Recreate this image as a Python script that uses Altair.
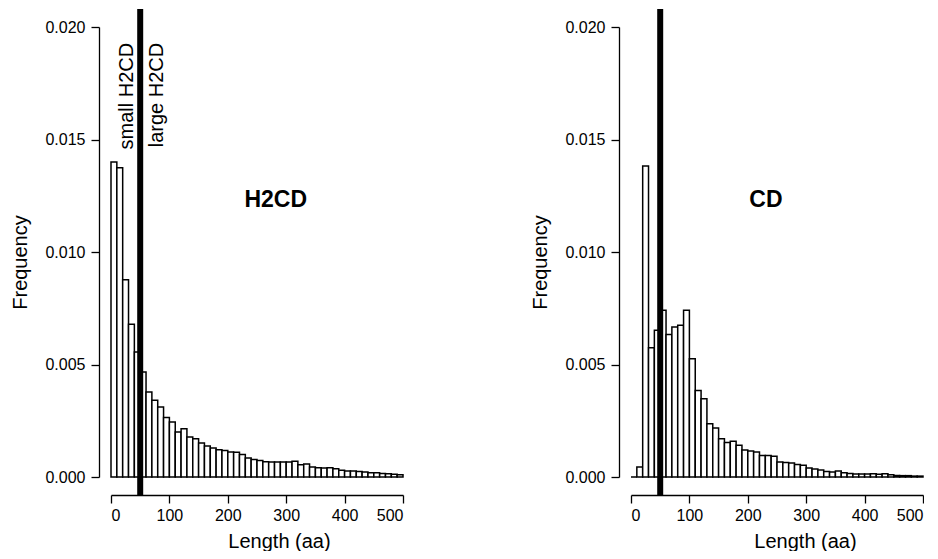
import altair as alt
import pandas as pd

# Histogram bins (aa), width 10
bin_starts = list(range(0, 500, 10))

h2cd_freq = [0.0140, 0.01375, 0.00877, 0.00679, 0.00556, 0.00467, 0.00378, 0.00341, 0.00311, 0.00264,
             0.00244, 0.00200, 0.00215, 0.00178, 0.00170, 0.00151, 0.00138, 0.00129, 0.00121, 0.00118,
             0.00111, 0.00110, 0.00100, 0.00085, 0.00078, 0.00073, 0.00068, 0.00067, 0.00067, 0.00067,
             0.00067, 0.00070, 0.00055, 0.00058, 0.00044, 0.00041, 0.00040, 0.00041, 0.00037, 0.00030,
             0.00027, 0.00027, 0.00024, 0.00022, 0.00019, 0.00019, 0.00016, 0.00015, 0.00012, 0.00010]

cd_freq = [0.0, 0.00044, 0.01382, 0.00575, 0.00652, 0.00741, 0.00633, 0.00667, 0.00674, 0.00741,
           0.00526, 0.00385, 0.00348, 0.00237, 0.00218, 0.00170, 0.00153, 0.00159, 0.00141, 0.00120,
           0.00116, 0.00111, 0.00096, 0.00096, 0.00092, 0.00067, 0.00065, 0.00062, 0.00056, 0.00052,
           0.00040, 0.00036, 0.00031, 0.00025, 0.00022, 0.00027, 0.00019, 0.00016, 0.00013, 0.00013,
           0.00013, 0.00015, 0.00012, 0.00015, 0.00010, 0.00007, 0.00006, 0.00006, 0.00004, 0.00004]

cutoff = [50]
x_ticks = [0, 100, 200, 300, 400, 500]
y_ticks = [0.000, 0.005, 0.010, 0.015, 0.020]

FONT = "Liberation Sans"
W, H = 292, 450


def panel(freqs, name, name_x, name_y, title_x, side_labels):
    df = pd.DataFrame({
        "start": bin_starts,
        "end": [b + 10 for b in bin_starts],
        "freq": freqs,
        "base": [0.0] * len(bin_starts),
    })
    xscale = alt.Scale(domain=[0, 500], nice=False, zero=False)
    yscale = alt.Scale(domain=[0, 0.02], nice=False)
    bars = alt.Chart(df).mark_rect(fill="white", stroke="black", strokeWidth=1.5).encode(
        x=alt.X("start:Q", scale=xscale,
                axis=alt.Axis(values=x_ticks, format="d", offset=18, title="Length (aa)",
                              titleX=title_x, titlePadding=8, labelPadding=4)),
        x2="end:Q",
        y=alt.Y("freq:Q", scale=yscale,
                axis=alt.Axis(values=y_ticks, format=".3f", offset=12, title="Frequency",
                              titleY=235, titlePadding=14, labelPadding=6)),
        y2="base:Q",
    )
    rule = alt.Chart(pd.DataFrame({"cut": cutoff})).mark_rule(
        color="black", strokeWidth=6, strokeCap="butt"
    ).encode(x=alt.X("cut:Q", scale=xscale), y=alt.value(-18), y2=alt.value(468))

    name_df = pd.DataFrame({"x": [name_x], "y": [name_y], "t": [name]})
    name_txt = alt.Chart(name_df).mark_text(
        font=FONT, fontSize=23, fontWeight="bold", color="black", align="center", baseline="middle"
    ).encode(x=alt.X("x:Q", scale=xscale), y=alt.Y("y:Q", scale=yscale), text="t:N")

    layers = [bars, rule, name_txt]
    if side_labels:
        lab_df = pd.DataFrame(side_labels)
        lab = alt.Chart(lab_df).mark_text(
            font=FONT, fontSize=20, color="black", angle=270, align="right", baseline="middle"
        ).encode(x=alt.X("x:Q", scale=xscale), y=alt.Y("y:Q", scale=yscale), text="t:N")
        layers.append(lab)
    return alt.layer(*layers).properties(width=W, height=H)


left = panel(h2cd_freq, "H2CD", 282, 0.0123, 168,
             {"x": [28, 79], "y": [0.0193, 0.0193], "t": ["small H2CD", "large H2CD"]})
right = panel(cd_freq, "CD", 231, 0.0123, 174, None)

chart = alt.hconcat(left, right, spacing=126).properties(
    padding={"left": 2, "top": -2, "right": 0, "bottom": 0}
).configure_view(stroke=None).configure_axis(
    grid=False,
    domainColor="black", domainWidth=1.3,
    tickColor="black", tickWidth=1.3, tickSize=8,
    labelFont=FONT, labelFontSize=16, labelColor="black",
    titleFont=FONT, titleFontSize=20, titleFontWeight="normal", titleColor="black",
)

chart.save("out.html", embed_options={"renderer": "svg", "actions": False})
